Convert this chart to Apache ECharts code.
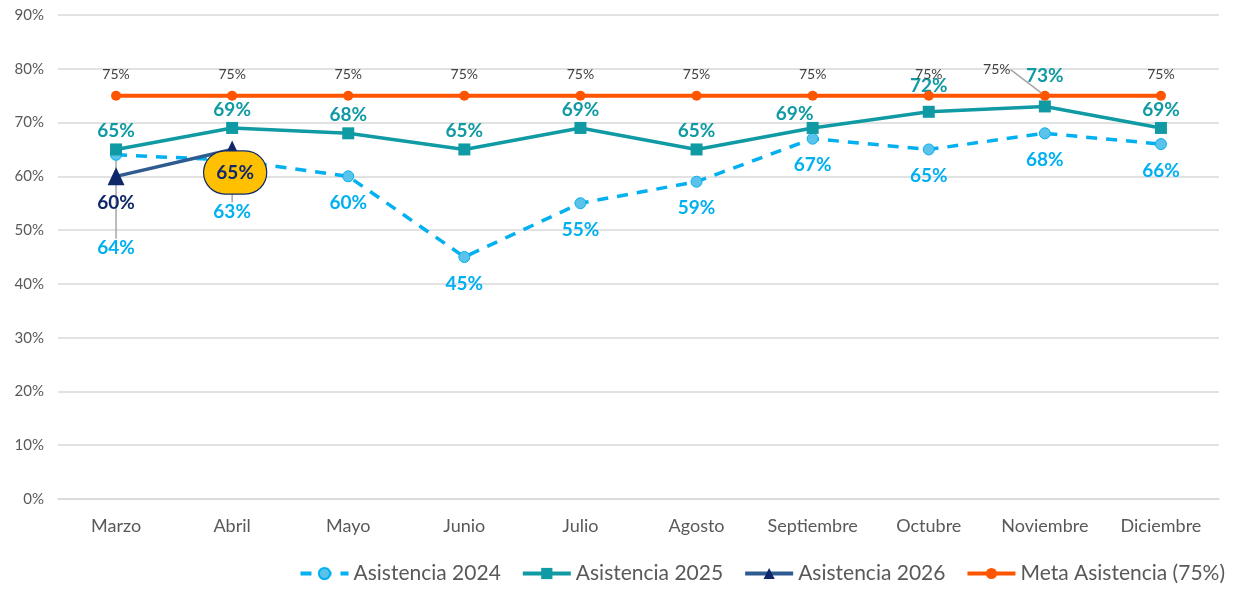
<!DOCTYPE html>
<html>
<head>
<meta charset="utf-8">
<script src="https://cdn.jsdelivr.net/npm/echarts@6/dist/echarts.min.js"></script>
<style>
  html, body { margin: 0; padding: 0; background: #fff; }
  #main { width: 1234px; height: 589px; }
</style>
</head>
<body>
<div id="main"></div>
<script>
// meses
const months = ['Marzo', 'Abril', 'Mayo', 'Junio', 'Julio', 'Agosto', 'Septiembre', 'Octubre', 'Noviembre', 'Diciembre']
// asistencia por año (%)
const asis2024 = [64, 63, 60, 45, 55, 59, 67, 65, 68, 66]
const asis2025 = [65, 69, 68, 65, 69, 65, 69, 72, 73, 69]
const asis2026 = [60, 65]
const meta = [75, 75, 75, 75, 75, 75, 75, 75, 75, 75]

const font = 'Lato'
const chart = echarts.init(document.getElementById('main'))

// desplazamientos manuales de etiquetas (como en el original)
const shift2024 = { 0: [0, 67], 1: [0, 25] }
const shift2025 = { 6: [-18, 4], 7: [0, -7], 8: [0, -12] }
const shiftMeta = { 8: [-48, -5] }
const mover = (shift) => (params) => {
  const s = shift[params.dataIndex]
  return s ? { dx: s[0], dy: s[1] } : {}
}
// línea guía solo en las etiquetas desplazadas
const withGuide = (arr, idx) => arr.map((v, i) => idx.includes(i) ? {
  value: v,
  labelLine: { show: true, lineStyle: { color: '#a6a6a6', width: 1.5 } }
} : v)

const option = {
  animation: false,
  grid: { left: 58, right: 15, top: 15, bottom: 90 },
  xAxis: {
    type: 'category',
    data: months,
    axisTick: { show: false },
    axisLine: { lineStyle: { color: '#d9d9d9', width: 1.5 } },
    axisLabel: { interval: 0, color: '#595959', fontSize: 18, fontFamily: font, margin: 18 }
  },
  yAxis: {
    type: 'value',
    min: 0,
    max: 90,
    interval: 10,
    axisLabel: { formatter: '{value}%', color: '#595959', fontSize: 15, fontFamily: font, margin: 14 },
    splitLine: { lineStyle: { color: '#d9d9d9', width: 1.5 } }
  },
  legend: {
    bottom: 0,
    right: 4,
    itemWidth: 48,
    itemHeight: 14,
    itemGap: 20,
    lineStyle: { width: 4 },
    textStyle: { color: '#595959', fontSize: 21, fontFamily: font }
  },
  series: [
    {
      name: 'Asistencia 2024',
      type: 'line',
      data: withGuide(asis2024, [0, 1]),
      symbol: 'circle',
      symbolSize: 11,
      itemStyle: { color: '#5bc3ea', borderColor: '#00b0f0', borderWidth: 1 },
      lineStyle: { color: '#00b0f0', width: 3.5, type: [11, 9] },
      label: {
        show: true, position: 'bottom', distance: 11, formatter: '{c}%',
        color: '#00b0f0', fontSize: 19, fontWeight: 'bold', fontFamily: font
      },
      labelLayout: mover(shift2024),
      z: 2
    },
    {
      name: 'Asistencia 2025',
      type: 'line',
      data: asis2025,
      symbol: 'rect',
      symbolSize: 12,
      itemStyle: { color: '#109aa3' },
      lineStyle: { color: '#109aa3', width: 3.5 },
      label: {
        show: true, position: 'top', distance: 3, formatter: '{c}%',
        color: '#109aa3', fontSize: 19, fontWeight: 'bold', fontFamily: font
      },
      labelLayout: mover(shift2025),
      z: 3
    },
    {
      name: 'Asistencia 2026',
      type: 'line',
      symbol: 'triangle',
      symbolSize: [17, 18],
      itemStyle: { color: '#10286a' },
      lineStyle: { color: '#2e5b90', width: 3.5 },
      label: {
        show: true, position: 'bottom', distance: 8, formatter: '{c}%',
        color: '#10286a', fontSize: 19, fontWeight: 'bold', fontFamily: font
      },
      data: asis2026.map((v, i) => i === 1 ? {
        value: v,
        label: {
          position: 'inside',
          offset: [3, 23],
          backgroundColor: '#ffc000',
          borderColor: '#10286a',
          borderWidth: 1.2,
          borderRadius: 22,
          width: 62,
          height: 42,
          align: 'center',
          verticalAlign: 'middle',
          lineHeight: 42,
          color: '#10286a'
        }
      } : v),
      z: 4
    },
    {
      name: 'Meta Asistencia (75%)',
      type: 'line',
      data: withGuide(meta, [8]),
      symbol: 'circle',
      symbolSize: 10,
      itemStyle: { color: '#ff5500' },
      lineStyle: { color: '#ff5500', width: 4 },
      label: {
        show: true, position: 'top', distance: 9, formatter: '{c}%',
        color: '#404040', fontSize: 14, fontFamily: font
      },
      labelLayout: mover(shiftMeta),
      z: 5
    }
  ]
}
chart.setOption(option)
</script>
</body>
</html>
